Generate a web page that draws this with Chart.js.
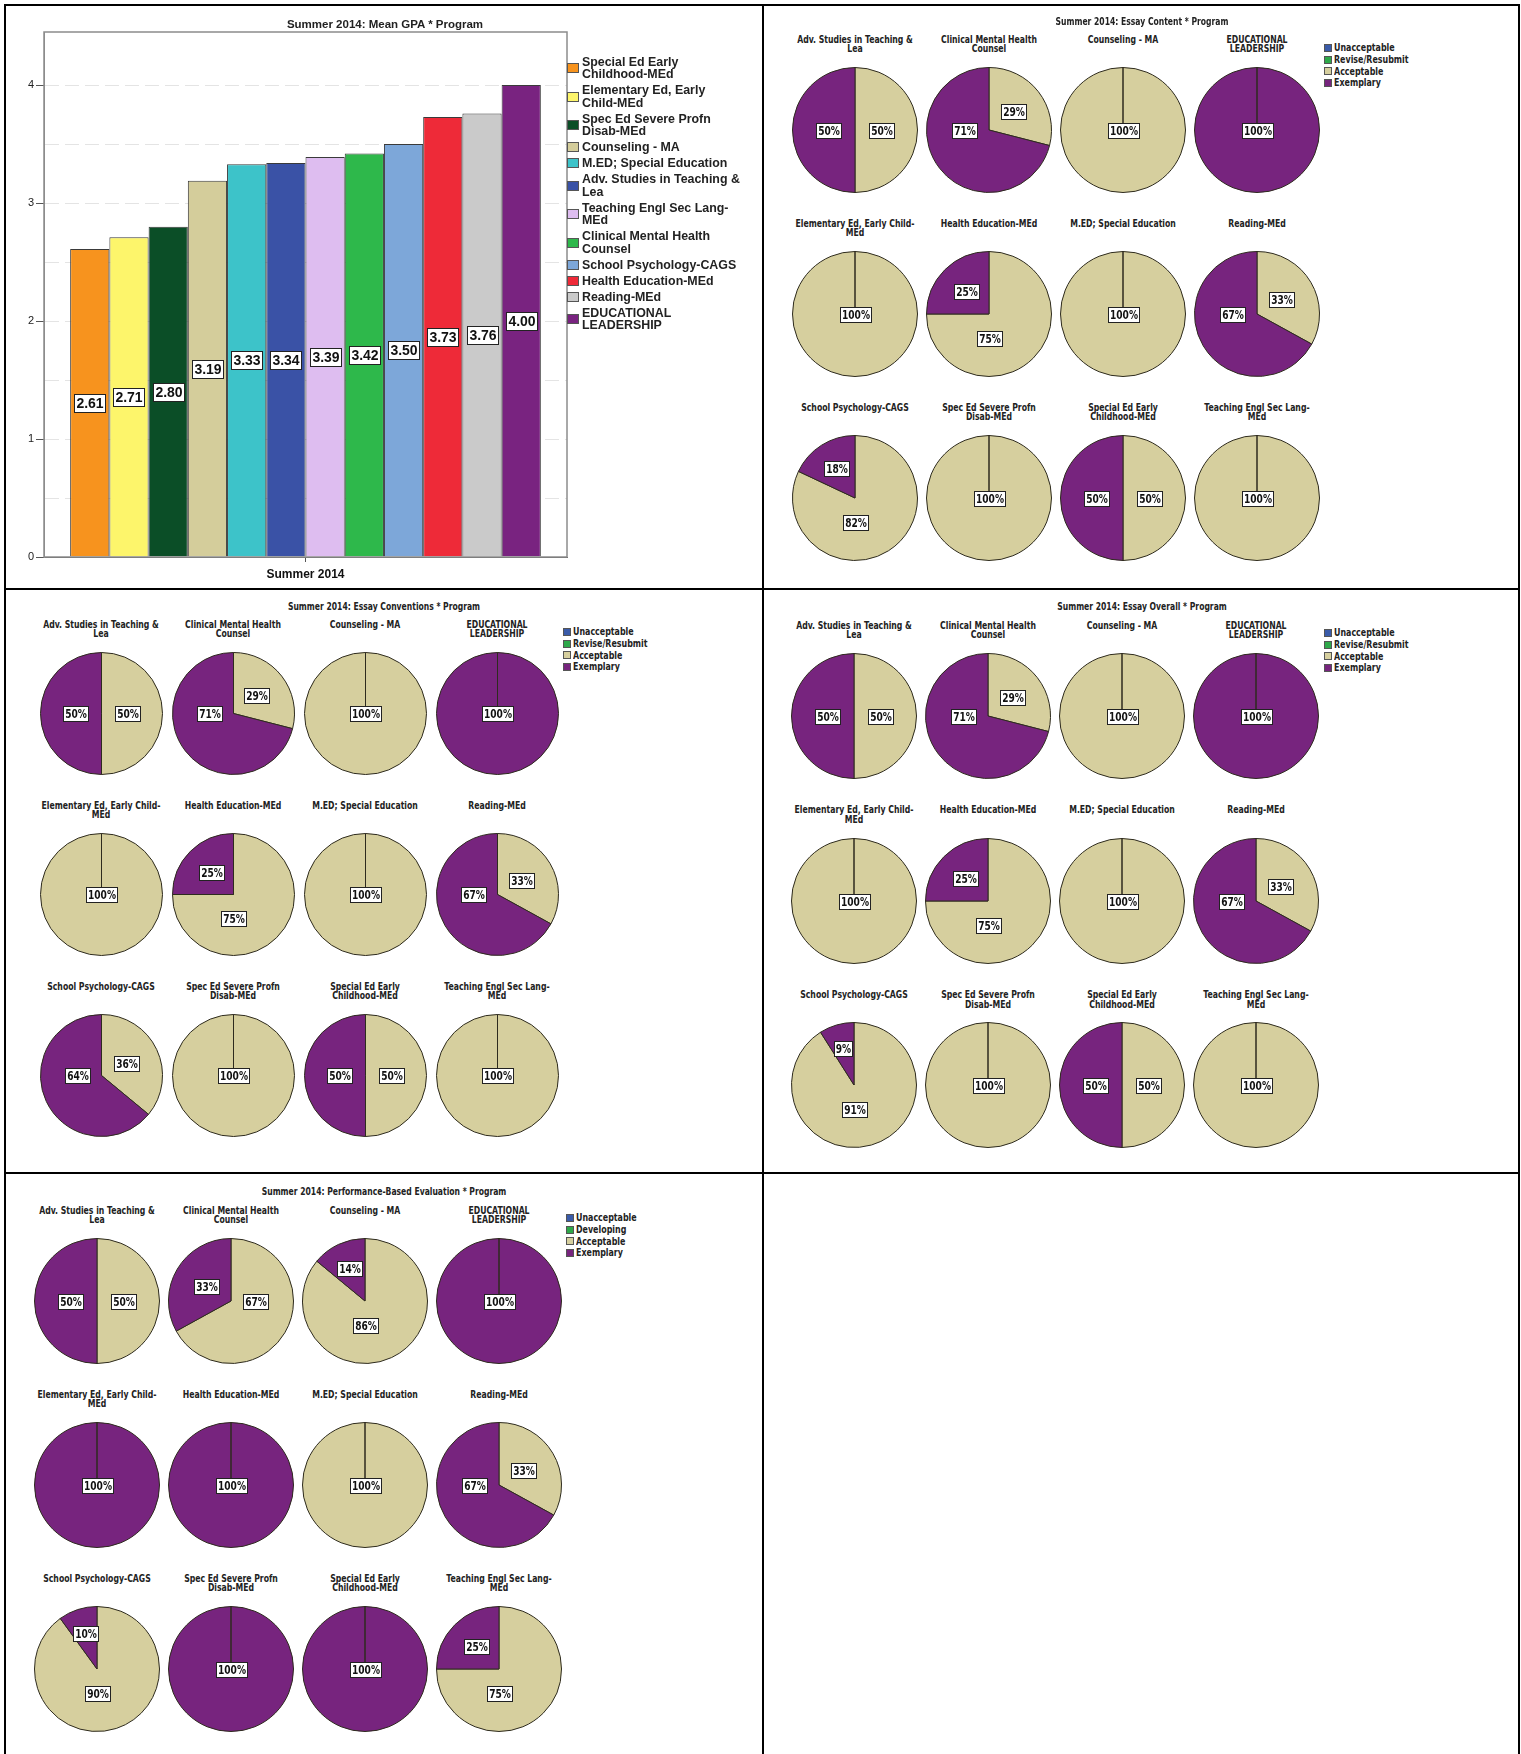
<!DOCTYPE html>
<html>
<head>
<meta charset="utf-8">
<title>Summer 2014 program charts</title>
<script src="https://cdn.jsdelivr.net/npm/chart.js@4.4.1/dist/chart.umd.min.js"></script>
<style>
  html, body { margin: 0; padding: 0; background: #fff; }
  #page { position: relative; width: 1521px; height: 1754px; overflow: hidden;
          font-family: "Liberation Sans", Arial, sans-serif; color: #1a1a1a; }
  .rule { position: absolute; background: #000; }
  .lbl { position: absolute; white-space: nowrap; transform: translate(-50%, -50%); text-align: center; }
  .narrow { font-family: "Liberation Sans Narrow", "Arial Narrow", "DejaVu Sans Condensed", sans-serif; font-weight: bold; }
  canvas { position: absolute; }
  .legend { position: absolute; }
  .legend .item { display: flex; align-items: center; white-space: nowrap; }
  .legend .sw { flex: none; box-sizing: border-box; border: 1px solid #555; }
</style>
</head>
<body>
<div id="page">
  <canvas id="gpa" width="763" height="589" style="left:0;top:0"></canvas>
</div>
<script>
// ---- mean GPA bar chart ----
const gpaCategory = ['Summer 2014'];
const gpaPrograms = ['Special Ed Early Childhood-MEd', 'Elementary Ed, Early Child-MEd', 'Spec Ed Severe Profn Disab-MEd',
  'Counseling - MA', 'M.ED; Special Education', 'Adv. Studies in Teaching & Lea', 'Teaching Engl Sec Lang-MEd',
  'Clinical Mental Health Counsel', 'School Psychology-CAGS', 'Health Education-MEd', 'Reading-MEd', 'EDUCATIONAL LEADERSHIP'];
const gpaLegendText = ['Special Ed Early\nChildhood-MEd', 'Elementary Ed, Early\nChild-MEd', 'Spec Ed Severe Profn\nDisab-MEd',
  'Counseling - MA', 'M.ED; Special Education', 'Adv. Studies in Teaching &\nLea', 'Teaching Engl Sec Lang-\nMEd',
  'Clinical Mental Health\nCounsel', 'School Psychology-CAGS', 'Health Education-MEd', 'Reading-MEd', 'EDUCATIONAL\nLEADERSHIP'];
const meanGPA = [2.61, 2.71, 2.80, 3.19, 3.33, 3.34, 3.39, 3.42, 3.50, 3.73, 3.76, 4.00];
const gpaColors = ['#F7931E', '#FDF56B', '#0B4E27', '#D4CD9B', '#3DC3C9', '#3A52A6',
  '#DEBDF0', '#2EB84B', '#7DA7D9', '#EE2A38', '#CACACA', '#792380'];

// ---- pie panels ----
const piePrograms = [
  ['Adv. Studies in Teaching &', 'Lea'], ['Clinical Mental Health', 'Counsel'], ['Counseling - MA'], ['EDUCATIONAL', 'LEADERSHIP'],
  ['Elementary Ed, Early Child-', 'MEd'], ['Health Education-MEd'], ['M.ED; Special Education'], ['Reading-MEd'],
  ['School Psychology-CAGS'], ['Spec Ed Severe Profn', 'Disab-MEd'], ['Special Ed Early', 'Childhood-MEd'], ['Teaching Engl Sec Lang-', 'MEd']
];
const essayLevels = ['Unacceptable', 'Revise/Resubmit', 'Acceptable', 'Exemplary'];
const pbeLevels = ['Unacceptable', 'Developing', 'Acceptable', 'Exemplary'];
const levelColors = ['#3A5BA9', '#2EA84A', '#D6CF9E', '#77247E'];

const noScores = [0, 0, 0, 0, 0, 0, 0, 0, 0, 0, 0, 0];   // Unacceptable / Revise / Developing
const contentAcceptable = [50, 29, 100, 0, 100, 75, 100, 33, 82, 100, 50, 100];
const contentExemplary = [50, 71, 0, 100, 0, 25, 0, 67, 18, 0, 50, 0];
const conventionsAcceptable = [50, 29, 100, 0, 100, 75, 100, 33, 36, 100, 50, 100];
const conventionsExemplary = [50, 71, 0, 100, 0, 25, 0, 67, 64, 0, 50, 0];
const overallAcceptable = [50, 29, 100, 0, 100, 75, 100, 33, 91, 100, 50, 100];
const overallExemplary = [50, 71, 0, 100, 0, 25, 0, 67, 9, 0, 50, 0];
const pbeAcceptable = [50, 67, 86, 0, 0, 0, 100, 33, 90, 0, 0, 75];
const pbeExemplary = [50, 33, 14, 100, 100, 100, 0, 67, 10, 100, 100, 25];

const panels = [
  { title: 'Summer 2014: Essay Content * Program', levels: essayLevels, acc: contentAcceptable, exe: contentExemplary,
    x0: 855, dx: 134, y0: 130, dy: 184, r: 62, tx: 1142, ty: 21, lx: 1324, ly: 48 },
  { title: 'Summer 2014: Essay Conventions * Program', levels: essayLevels, acc: conventionsAcceptable, exe: conventionsExemplary,
    x0: 101, dx: 132, y0: 713.5, dy: 181, r: 60.5, tx: 384, ty: 606, lx: 563, ly: 632 },
  { title: 'Summer 2014: Essay Overall * Program', levels: essayLevels, acc: overallAcceptable, exe: overallExemplary,
    x0: 854, dx: 134, y0: 716, dy: 184.7, r: 62, tx: 1142, ty: 606, lx: 1324, ly: 633 },
  { title: 'Summer 2014: Performance-Based Evaluation * Program', levels: pbeLevels, acc: pbeAcceptable, exe: pbeExemplary,
    x0: 97, dx: 134, y0: 1301, dy: 184, r: 62, tx: 384, ty: 1191, lx: 566, ly: 1218 }
];

const page = document.getElementById('page');
const NARROW = '"Liberation Sans Narrow", "Arial Narrow", "DejaVu Sans Condensed", sans-serif';

function addText(text, x, y, style, cls) {
  const d = document.createElement('div');
  d.className = 'lbl' + (cls ? ' ' + cls : '');
  d.textContent = text;
  d.style.left = x + 'px';
  d.style.top = y + 'px';
  Object.assign(d.style, style || {});
  page.appendChild(d);
  return d;
}

function addRule(x, y, w, h) {
  const d = document.createElement('div');
  d.className = 'rule';
  Object.assign(d.style, { left: x + 'px', top: y + 'px', width: w + 'px', height: h + 'px' });
  page.appendChild(d);
}

// table lines
addRule(4, 4, 1516, 2);
addRule(4, 4, 2, 1750);
addRule(762, 4, 2, 1750);
addRule(1518, 4, 2, 1750);
addRule(4, 588, 1516, 2);
addRule(4, 1172, 1516, 2);

function boxLabel(ctx, text, x, y, font, padX, h, squeeze) {
  ctx.save();
  ctx.font = font;
  const sq = squeeze || 1;
  const w = Math.round(ctx.measureText(text).width * sq + padX * 2);
  const bx = Math.round(x - w / 2) + 0.5, by = Math.round(y - h / 2) + 0.5;
  ctx.fillStyle = '#fff';
  ctx.fillRect(bx, by, w, h);
  ctx.strokeStyle = '#222';
  ctx.lineWidth = 1;
  ctx.strokeRect(bx, by, w, h);
  ctx.fillStyle = '#111';
  ctx.textAlign = 'center';
  ctx.textBaseline = 'middle';
  ctx.translate(bx + w / 2, by + h / 2 + 1);
  ctx.scale(sq, 1);
  ctx.fillText(text, 0, 0);
  ctx.restore();
}

// ---- bar chart ----
const barLabels = {
  id: 'barLabels',
  afterDatasetsDraw(chart) {
    chart.data.datasets.forEach((ds, i) => {
      const bar = chart.getDatasetMeta(i).data[0];
      const { x, y, base } = bar.getProps(['x', 'y', 'base'], true);
      boxLabel(chart.ctx, ds.data[0].toFixed(2), x, (y + base) / 2, 'bold 14px "Liberation Sans", Arial, sans-serif', 2, 18);
    });
  }
};
const plotFrame = {
  id: 'plotFrame',
  afterDraw(chart) {
    const a = chart.chartArea, ctx = chart.ctx;
    ctx.save();
    ctx.strokeStyle = '#8c8c8c';
    ctx.lineWidth = 1.5;
    ctx.strokeRect(a.left, a.top, a.right - a.left, a.bottom - a.top);
    ctx.restore();
  }
};

new Chart(document.getElementById('gpa'), {
  type: 'bar',
  data: {
    labels: gpaCategory,
    datasets: gpaPrograms.map((name, i) => ({
      label: name,
      data: [meanGPA[i]],
      backgroundColor: gpaColors[i],
      borderColor: '#3a3a3a',
      borderWidth: 1,
      categoryPercentage: 0.9,
      barPercentage: 1.0
    }))
  },
  options: {
    responsive: false,
    animation: false,
    events: [],
    layout: { padding: { left: 0, right: 196, top: 32, bottom: 0 } },
    plugins: { legend: { display: false }, tooltip: { enabled: false }, title: { display: false } },
    scales: {
      x: {
        grid: { drawOnChartArea: false, offset: false, tickLength: 5, tickColor: '#555' },
        border: { color: '#555', width: 1 },
        ticks: { color: '#111', padding: 5, font: { family: '"Liberation Sans", Arial, sans-serif', size: 12, weight: 'bold' } },
        afterFit(s) { s.height = 32; }
      },
      y: {
        min: 0, max: 4.45,
        grid: {
          color: ctx => ctx.tick && ctx.tick.value > 0 ? '#e4e4e4' : 'transparent',
          tickColor: ctx => ctx.tick && Number.isInteger(ctx.tick.value) ? '#555' : 'transparent',
          tickLength: 8
        },
        border: { color: '#8c8c8c', width: 1, dash: [14, 6] },
        ticks: {
          stepSize: 0.5, includeBounds: false, padding: 2, color: '#222',
          font: { family: '"Liberation Sans", Arial, sans-serif', size: 11 },
          callback: v => Number.isInteger(v) ? String(v) : ''
        },
        afterFit(s) { s.width = 44; }
      }
    }
  },
  plugins: [barLabels, plotFrame]
});

addText('Summer 2014: Mean GPA * Program', 385, 24, { fontSize: '11.5px', fontWeight: 'bold', color: '#222' });

// bar chart legend
(function () {
  const lg = document.createElement('div');
  lg.className = 'legend';
  Object.assign(lg.style, { left: '567px', top: '55.5px', fontSize: '12.4px', fontWeight: 'bold', lineHeight: '12.5px', color: '#222' });
  gpaLegendText.forEach((t, i) => {
    const it = document.createElement('div');
    it.className = 'item';
    it.style.marginBottom = '3.5px';
    const sw = document.createElement('span');
    sw.className = 'sw';
    Object.assign(sw.style, { width: '12px', height: '10px', background: gpaColors[i], marginRight: '3px' });
    const tx = document.createElement('span');
    tx.style.whiteSpace = 'pre';
    tx.textContent = t;
    it.appendChild(sw); it.appendChild(tx);
    lg.appendChild(it);
  });
  page.appendChild(lg);
})();

// ---- pies ----
const pieLabels = {
  id: 'pieLabels',
  afterDatasetsDraw(chart) {
    const data = chart.data.datasets[0].data;
    const total = data.reduce((a, b) => a + b, 0);
    const q = Math.PI / 2;
    chart.getDatasetMeta(0).data.forEach((arc, i) => {
      const v = data[i];
      if (!v) return;
      const p = arc.getProps(['x', 'y', 'startAngle', 'endAngle', 'outerRadius'], true);
      const frac = v / total;
      let mid = (p.startAngle + p.endAngle) / 2 + q;   // clockwise from 12 o'clock
      let d;
      if (frac > 0.999) d = 0;
      else if (frac > 0.5) { mid = Math.round(mid / q + 1e-6) * q; d = 0.39; }
      else d = Math.max(0.42, 0.66 - 0.6 * frac);
      const x = p.x + Math.sin(mid) * d * p.outerRadius;
      const y = p.y - Math.cos(mid) * d * p.outerRadius;
      boxLabel(chart.ctx, v + '%', x, y, 'bold 12px ' + NARROW, 1.5, 15, 0.84);
    });
  }
};

panels.forEach(pn => {
  addText(pn.title, pn.tx, pn.ty, { fontSize: '10px', color: '#222', transform: 'translate(-50%, -50%) scaleX(0.85)' }, 'narrow');

  piePrograms.forEach((lines, i) => {
    const cx = pn.x0 + (i % 4) * pn.dx;
    const cy = pn.y0 + Math.floor(i / 4) * pn.dy;
    addText(lines.join('\n'), cx, cy - pn.r - 28.5 - 4.75,
      { fontSize: '10px', lineHeight: '9.5px', color: '#222', whiteSpace: 'pre', transform: 'translate(-50%, 0) scaleX(0.86)' }, 'narrow');

    const size = Math.round(pn.r * 2 + 2);
    const cv = document.createElement('canvas');
    cv.width = size; cv.height = size;
    cv.style.left = (cx - size / 2) + 'px';
    cv.style.top = (cy - size / 2) + 'px';
    page.appendChild(cv);
    new Chart(cv, {
      type: 'pie',
      data: {
        labels: pn.levels,
        datasets: [{
          data: [noScores[i], noScores[i], pn.acc[i], pn.exe[i]],
          backgroundColor: levelColors,
          borderColor: '#2e2b1e',
          borderWidth: 1
        }]
      },
      options: {
        responsive: false,
        animation: false,
        events: [],
        layout: { padding: 0 },
        plugins: { legend: { display: false }, tooltip: { enabled: false } }
      },
      plugins: [pieLabels]
    });
  });

  const lg = document.createElement('div');
  lg.className = 'legend narrow';
  Object.assign(lg.style, { left: pn.lx + 'px', top: (pn.ly - 6) + 'px', fontSize: '10px', lineHeight: '11.8px', color: '#222' });
  pn.levels.forEach((name, i) => {
    const it = document.createElement('div');
    it.className = 'item';
    const sw = document.createElement('span');
    sw.className = 'sw';
    Object.assign(sw.style, { width: '8px', height: '8px', background: levelColors[i], marginRight: '2px' });
    const tx = document.createElement('span');
    tx.textContent = name;
    Object.assign(tx.style, { display: 'inline-block', transform: 'scaleX(0.88)', transformOrigin: 'left center' });
    it.appendChild(sw); it.appendChild(tx);
    lg.appendChild(it);
  });
  page.appendChild(lg);
});
</script>
</body>
</html>
